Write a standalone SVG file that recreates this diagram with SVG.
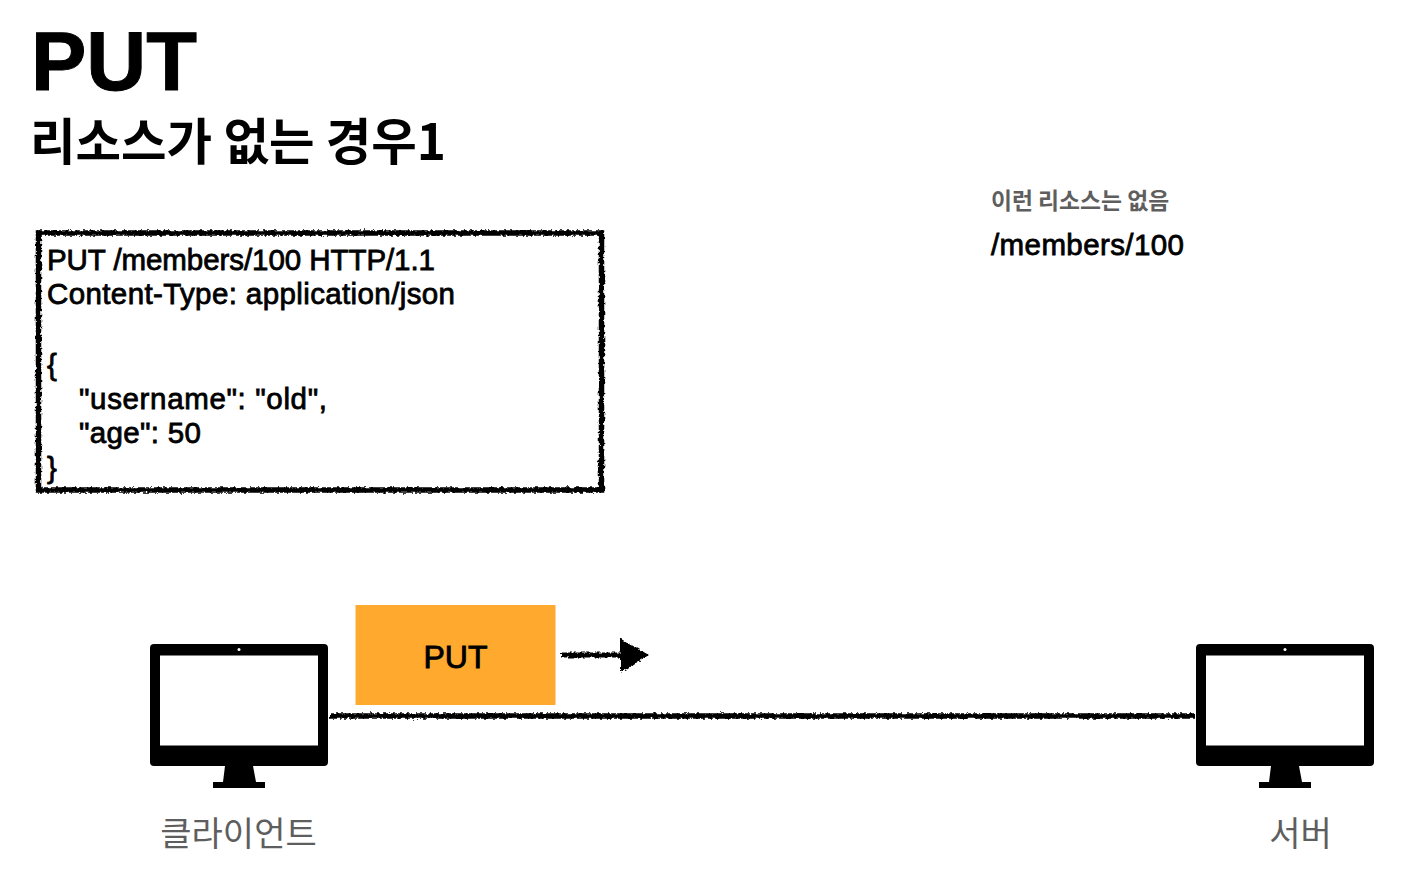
<svg xmlns="http://www.w3.org/2000/svg" width="1412" height="876" viewBox="0 0 1412 876">
<style>
text{font-family:"Liberation Sans","Noto Sans CJK KR",sans-serif;fill:#000}
.k{font-family:"Noto Sans CJK KR",sans-serif}
.code{font-size:29.500px;stroke:#000;stroke-width:.8px}
.rough{fill:none;stroke:#000;filter:url(#r)}
.gray{fill:#5e5e5e}
</style>
<defs>
<filter id="r" x="0" y="0" width="1412" height="876" filterUnits="userSpaceOnUse">
<feTurbulence type="fractalNoise" baseFrequency="0.3" numOctaves="3" seed="4"/>
<feDisplacementMap in="SourceGraphic" scale="4.500" xChannelSelector="R" yChannelSelector="G"/>
</filter>
<g id="monitor">
<path d="M4 0H174Q178 0 178 4V118Q178 122 174 122H4Q0 122 0 118V4Q0 0 4 0ZM10 11.500V101.500H168V11.500Z" fill="#000" fill-rule="evenodd"/>
<circle cx="89" cy="5.500" r="1.500" fill="#fff"/>
<path d="M75 122H103L106 138H115V144H63V138H73Z" fill="#000"/>
</g>
</defs>
<g id="title">
<text x="31" y="90" font-size="83" font-weight="700" stroke="#000" stroke-width="1">PUT</text>
<text class="k" x="30" y="160" font-size="49.500" font-weight="700">리소스가 없는 경우1</text>
</g>
<g id="request">
<rect class="rough" x="38.500" y="233" width="563" height="257" stroke-width="5.500"/>
<text class="code" x="47" y="270" textLength="388">PUT /members/100 HTTP/1.1</text>
<text class="code" x="47" y="304" textLength="408">Content-Type: application/json</text>
<text class="code" x="47" y="375">{</text>
<text class="code" x="79" y="409" textLength="248">"username": "old",</text>
<text class="code" x="79" y="443" textLength="122">"age": 50</text>
<text class="code" x="47" y="478">}</text>
</g>
<g id="resource">
<text class="k gray" x="991" y="209" font-size="22.800" font-weight="700">이런 리소스는 없음</text>
<text class="code" x="991" y="255" textLength="193">/members/100</text>
</g>
<g id="connectors">
<path class="rough" d="M330 716H1195" stroke-width="5.500"/>
<path class="rough" d="M561 655H622" stroke-width="5"/>
<path d="M621 640L647 655L621 671Z" fill="#000" stroke="#000" stroke-width="2" filter="url(#r)"/>
</g>
<g id="client">
<use href="#monitor" x="150" y="644"/>
<text class="k gray" x="238.500" y="846" font-size="34" text-anchor="middle">클라이언트</text>
</g>
<g id="server">
<use href="#monitor" x="1196" y="644"/>
<text class="k gray" x="1300.500" y="846" font-size="34" text-anchor="middle">서버</text>
</g>
<g id="put">
<rect x="355.500" y="605" width="200" height="100" fill="#ffaa2e"/>
<text x="455.500" y="668" font-size="32" text-anchor="middle" stroke="#000" stroke-width=".9">PUT</text>
</g>
</svg>
